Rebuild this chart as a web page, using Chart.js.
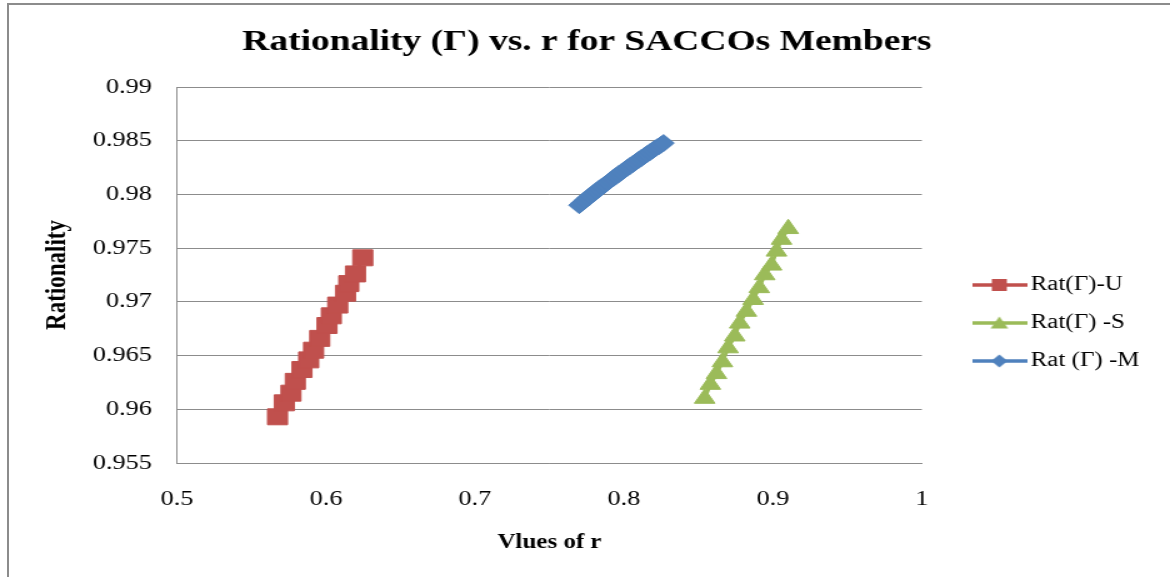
<!DOCTYPE html>
<html>
<head>
<meta charset="utf-8">
<script src="https://cdn.jsdelivr.net/npm/chart.js@4/dist/chart.umd.min.js"></script>
<style>
  html, body { margin: 0; padding: 0; background: #fff; overflow: hidden; }
  #moldura { position: absolute; left: 7px; top: 3px; width: 1200px; height: 600px;
             border-left: 2px solid #8c8c8c; border-top: 2px solid #8c8c8c; }
  /* the reference picture is stretched sideways, so the canvas is too */
  #grafico { position: absolute; left: 0; top: 0; transform: scaleX(1.25); transform-origin: 0 0; }
</style>
</head>
<body>
<div id="moldura"></div>
<canvas id="grafico" width="936" height="577"></canvas>
<script>
// valores
const rU   = [0.5675, 0.5720, 0.5765, 0.5794, 0.5839, 0.5884, 0.5917, 0.5958, 0.6007, 0.6036, 0.6079, 0.6131, 0.6153, 0.6198, 0.6247];
const ratU = [0.9593, 0.9606, 0.9615, 0.9626, 0.9637, 0.9646, 0.9655, 0.9666, 0.9678, 0.9687, 0.9697, 0.9708, 0.9717, 0.9726, 0.9741];

const rS   = [0.8542, 0.8580, 0.8621, 0.8661, 0.8699, 0.8744, 0.8777, 0.8822, 0.8867, 0.8908, 0.8945, 0.8991, 0.9024, 0.9058, 0.9103];
const ratS = [0.9610, 0.9623, 0.9633, 0.9644, 0.9657, 0.9668, 0.9680, 0.9691, 0.9702, 0.9713, 0.9725, 0.9734, 0.9747, 0.9758, 0.9768];

const rM   = [0.7700, 0.7718, 0.7737, 0.7756, 0.7775, 0.7794, 0.7813, 0.7832, 0.7851, 0.7870, 0.7889, 0.7908, 0.7927, 0.7946, 0.7965, 0.7984,
              0.8003, 0.8022, 0.8041, 0.8060, 0.8079, 0.8098, 0.8117, 0.8136, 0.8155, 0.8174, 0.8193, 0.8212, 0.8231, 0.8250, 0.8266];
const ratM = [0.97900, 0.97922, 0.97945, 0.97966, 0.97988, 0.98008, 0.98030, 0.98050, 0.98071, 0.98090, 0.98110, 0.98131, 0.98150, 0.98170, 0.98189, 0.98208,
              0.98228, 0.98246, 0.98265, 0.98284, 0.98302, 0.98320, 0.98339, 0.98357, 0.98375, 0.98393, 0.98411, 0.98429, 0.98446, 0.98463, 0.98478];

const xTicks = [0.5, 0.6, 0.7, 0.8, 0.9, 1];
const yTicks = [0.955, 0.96, 0.965, 0.97, 0.975, 0.98, 0.985, 0.99];

const vermelho = '#C0504D';
const verde = '#9BBB59';
const azul = '#4F81BD';
const cinza = '#8c8c8c';
const fonte = 'Liberation Serif';

const pontos = (xs, ys) => xs.map((x, i) => ({ x: x, y: ys[i] }));

// ícone da legenda: linha com o marcador no meio
function iconeLegenda(cor, forma) {
  const c = document.createElement('canvas');
  c.width = 44; c.height = 20;
  const g = c.getContext('2d');
  g.strokeStyle = cor; g.lineWidth = 3.5;
  g.beginPath(); g.moveTo(0, 10); g.lineTo(44, 10); g.stroke();
  g.fillStyle = cor;
  g.beginPath();
  if (forma === 'rect') {
    g.rect(16, 4, 12, 12);
  } else if (forma === 'triangle') {
    g.moveTo(22, 3.5); g.lineTo(29, 15.5); g.lineTo(15, 15.5); g.closePath();
  } else {
    g.moveTo(22, 3.5); g.lineTo(28.5, 10); g.lineTo(22, 16.5); g.lineTo(15.5, 10); g.closePath();
  }
  g.fill();
  return c;
}
const icones = [iconeLegenda(vermelho, 'rect'), iconeLegenda(verde, 'triangle'), iconeLegenda(azul, 'rectRot')];

const ctx = document.getElementById('grafico').getContext('2d');
const myChart = new Chart(ctx, {
  type: 'scatter',
  data: {
    datasets: [
      {
        label: 'Rat(Γ)-U',
        data: pontos(rU, ratU),
        showLine: true,
        borderColor: vermelho,
        backgroundColor: vermelho,
        borderWidth: 3,
        pointStyle: 'rect',
        pointRadius: 11.3,
        pointBorderWidth: 1
      },
      {
        label: 'Rat(Γ) -S',
        data: pontos(rS, ratS),
        showLine: true,
        borderColor: verde,
        backgroundColor: verde,
        borderWidth: 3,
        pointStyle: 'triangle',
        pointRadius: 9.5,
        pointBorderWidth: 1
      },
      {
        label: 'Rat (Γ) -M',
        data: pontos(rM, ratM),
        showLine: true,
        borderColor: azul,
        backgroundColor: azul,
        borderWidth: 3,
        pointStyle: 'rectRot',
        pointRadius: 8.5,
        pointBorderWidth: 1
      }
    ]
  },
  options: {
    responsive: false,
    animation: false,
    layout: { padding: { left: 24, right: 21, top: 0, bottom: 0 } },
    plugins: {
      title: {
        display: true,
        text: 'Rationality (Γ) vs. r for SACCOs Members',
        color: '#000',
        font: { family: fonte, size: 30, weight: 'bold' },
        padding: { top: 24, bottom: 27 }
      },
      legend: {
        position: 'right',
        align: 'center',
        title: { display: true, text: '', font: { size: 10 }, padding: { top: 0, bottom: 57 } },
        labels: {
          usePointStyle: true,
          pointStyleWidth: 30,
          padding: 18,
          color: '#000',
          font: { family: fonte, size: 20 },
          generateLabels(chart) {
            const itens = Chart.defaults.plugins.legend.labels.generateLabels(chart);
            itens.forEach((it, i) => { it.pointStyle = icones[i]; });
            return itens;
          }
        }
      },
      tooltip: { enabled: false }
    },
    scales: {
      x: {
        type: 'linear',
        min: 0.5,
        max: 1,
        afterBuildTicks(s) { s.ticks = xTicks.map(v => ({ value: v })); },
        afterFit(s) { s.height = 114; },
        grid: { display: false, drawTicks: false },
        border: { display: true, color: cinza, width: 1 },
        ticks: { color: '#000', font: { family: fonte, size: 21 }, padding: 24, callback: v => String(v) },
        title: {
          display: true,
          text: 'Vlues of r',
          color: '#000',
          font: { family: fonte, size: 20, weight: 'bold' },
          padding: { top: 0, bottom: 22 }
        }
      },
      y: {
        type: 'linear',
        min: 0.955,
        max: 0.99,
        afterBuildTicks(s) { s.ticks = yTicks.map(v => ({ value: v })); },
        afterFit(s) { s.width = 117.6; },
        grid: { display: true, color: cinza, lineWidth: 1, drawTicks: false },
        border: { display: true, color: cinza, width: 1 },
        ticks: { color: '#000', font: { family: fonte, size: 21 }, padding: 20, callback: v => String(v) },
        title: {
          display: true,
          text: 'Rationality',
          color: '#000',
          font: { family: fonte, size: 23, weight: 'bold' },
          padding: { top: 8.6, bottom: 0 }
        }
      },
      // espaço vazio entre a área do gráfico e a legenda
      folga: {
        position: 'right',
        display: true,
        grid: { display: false },
        border: { display: false },
        ticks: { display: false },
        afterFit(s) { s.width = 29; }
      }
    }
  }
});
</script>
</body>
</html>
